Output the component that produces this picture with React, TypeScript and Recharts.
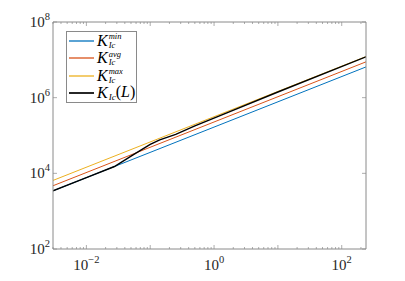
import { LineChart, Line, XAxis, YAxis, Legend } from 'recharts';

// lengths L and the fitted toughness bounds
const lineEnds = [0.003, 240];
const kMin = [3440, 6490000];
const kAvg = [4700, 8850000];
const kMax = [6490, 12200000];

const lengthsL = [0.003, 0.01, 0.0275, 0.0501, 0.1, 0.141, 0.251, 0.501, 1.585, 10, 240];
const kOfL = [3444, 7690, 15136, 28500, 58000, 77000, 107000, 180000, 396000, 1410000, 12000000];

const xMajor = [0.01, 1, 100];
const yTicks = [1e2, 1e4, 1e6, 1e8];

// minor ticks like MATLAB: 2..9 times each decade, inside the domain
const xTicks: number[] = [];
for (let e = -3; e <= 2; e++) {
  for (let m = 1; m <= 9; m++) {
    const v = m * Math.pow(10, e);
    if (v >= 0.003 && v <= 240) xTicks.push(v);
  }
}

const AXIS = '#8a8a8a';
const FONT = '"Liberation Serif", "DejaVu Serif", serif';

const series = [
  { key: 'min', color: '#0072BD', sup: 'min', width: 1 },
  { key: 'avg', color: '#D95319', sup: 'avg', width: 1 },
  { key: 'max', color: '#EDB120', sup: 'max', width: 1 },
  { key: 'L', color: '#000000', sup: null, width: 1.4 },
];

const toRows = (xs: number[], ys: number[]) => xs.map((x, i) => ({ x, y: ys[i] }));

const isMajor = (v: number) => Math.abs(Math.log10(v) - Math.round(Math.log10(v))) < 1e-6;
const expLabel = (v: number) => {
  const e = Math.round(Math.log10(v));
  return e < 0 ? '\u2212' + Math.abs(e) : String(e);
};

const BottomTick = ({ x, y, payload }: any) => {
  const v = payload.value;
  const major = isMajor(v);
  return (
    <g>
      <line x1={x} x2={x} y1={y} y2={y - (major ? 4 : 2)} stroke={AXIS} strokeWidth={0.7} />
      {major && xMajor.includes(v) && (
        <text x={x} y={y + 21} textAnchor="middle" fontFamily={FONT} fontSize={15} fill="#262626">
          10<tspan dy={-7} fontSize={10.5}>{expLabel(v)}</tspan>
        </text>
      )}
    </g>
  );
};

const TopTick = ({ x, y, payload }: any) => {
  const major = isMajor(payload.value);
  return <line x1={x} x2={x} y1={y} y2={y + (major ? 4 : 2)} stroke={AXIS} strokeWidth={0.7} />;
};

const LeftTick = ({ x, y, payload }: any) => (
  <g>
    <line x1={x} x2={x + 4} y1={y} y2={y} stroke={AXIS} strokeWidth={0.7} />
    <text x={x - 3} y={y + 5} textAnchor="end" fontFamily={FONT} fontSize={15} fill="#262626">
      10<tspan dy={-7} fontSize={10.5}>{expLabel(payload.value)}</tspan>
    </text>
  </g>
);

const RightTick = ({ x, y }: any) => (
  <line x1={x} x2={x - 4} y1={y} y2={y} stroke={AXIS} strokeWidth={0.7} />
);

const LegendBox = () => (
  <div
    style={{
      border: `1px solid ${AXIS}`,
      background: '#fff',
      padding: '0px 3px 0px 2px',
      fontFamily: FONT,
      color: '#000',
      width: 64,
    }}
  >
    {series.map((s) => (
      <div key={s.key} style={{ display: 'flex', alignItems: 'center', height: 17.5 }}>
        <svg width={25} height={4} style={{ marginRight: 3, flex: 'none' }}>
          <line x1={0} x2={25} y1={2} y2={2} stroke={s.color} strokeWidth={s.width + 0.3} />
        </svg>
        <span style={{ fontStyle: 'italic', fontSize: 16, lineHeight: '16px' }}>K</span>
        {s.sup ? (
          <span
            style={{
              display: 'inline-flex',
              flexDirection: 'column',
              fontStyle: 'italic',
              fontSize: 8.5,
              lineHeight: '8.75px',
              marginLeft: 1,
            }}
          >
            <span>{s.sup}</span>
            <span>Ic</span>
          </span>
        ) : (
          <span style={{ fontStyle: 'italic', fontSize: 16, lineHeight: '16px', display: 'inline-flex', alignItems: 'baseline' }}>
            <span style={{ fontSize: 9, position: 'relative', top: 3, marginLeft: 1 }}>Ic</span>
            <span style={{ fontStyle: 'normal' }}>(</span>L<span style={{ fontStyle: 'normal' }}>)</span>
          </span>
        )}
      </div>
    ))}
  </div>
);

export default function App() {
  return (
    <div style={{ position: 'absolute', left: 0, top: 0, width: 405, height: 281, background: '#fff' }}>
      <LineChart width={405} height={281} margin={{ top: 21, right: 38, bottom: 31, left: 13 }}>
        <XAxis
          xAxisId="b"
          dataKey="x"
          type="number"
          scale="log"
          domain={[0.003, 240]}
          allowDataOverflow
          ticks={xTicks}
          interval={0}
          tickSize={0}
          tickMargin={0}
          tickLine={false}
          height={1}
          stroke={AXIS}
          tick={<BottomTick />}
        />
        <XAxis
          xAxisId="t"
          orientation="top"
          dataKey="x"
          type="number"
          scale="log"
          domain={[0.003, 240]}
          allowDataOverflow
          ticks={xTicks}
          interval={0}
          tickSize={0}
          tickMargin={0}
          tickLine={false}
          height={1}
          stroke={AXIS}
          tick={<TopTick />}
        />
        <YAxis
          yAxisId="l"
          type="number"
          scale="log"
          domain={[100, 1e8]}
          allowDataOverflow
          ticks={yTicks}
          interval={0}
          tickSize={0}
          tickMargin={0}
          tickLine={false}
          width={40}
          stroke={AXIS}
          tick={<LeftTick />}
        />
        <YAxis
          yAxisId="r"
          orientation="right"
          type="number"
          scale="log"
          domain={[100, 1e8]}
          allowDataOverflow
          ticks={yTicks}
          interval={0}
          tickSize={0}
          tickMargin={0}
          tickLine={false}
          width={1}
          stroke={AXIS}
          tick={<RightTick />}
        />
        <Legend
          layout="vertical"
          align="center"
          verticalAlign="middle"
          wrapperStyle={{ left: 66, top: 31, width: 'auto' }}
          content={<LegendBox />}
        />
        <Line xAxisId="b" yAxisId="l" data={toRows(lineEnds, kMin)} dataKey="y" stroke={series[0].color} strokeWidth={1} dot={false} isAnimationActive={false} />
        <Line xAxisId="b" yAxisId="l" data={toRows(lineEnds, kAvg)} dataKey="y" stroke={series[1].color} strokeWidth={1} dot={false} isAnimationActive={false} />
        <Line xAxisId="b" yAxisId="l" data={toRows(lineEnds, kMax)} dataKey="y" stroke={series[2].color} strokeWidth={1} dot={false} isAnimationActive={false} />
        <Line xAxisId="b" yAxisId="l" data={toRows(lengthsL, kOfL)} dataKey="y" type="linear" stroke={series[3].color} strokeWidth={1.4} dot={false} isAnimationActive={false} />
      </LineChart>
    </div>
  );
}
